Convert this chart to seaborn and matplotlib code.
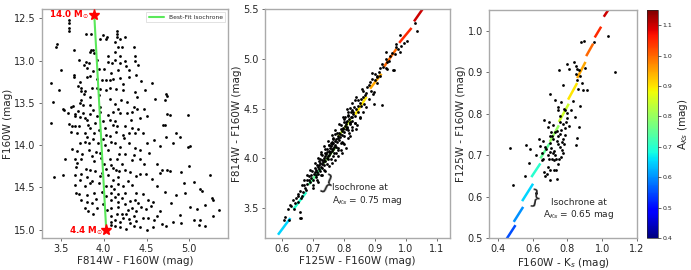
import numpy as np
import pandas as pd
import matplotlib
matplotlib.use("Agg")
import matplotlib.pyplot as plt
from matplotlib.collections import LineCollection
import seaborn as sns

# ---------------- data ----------------
# Panel 1: CMD  (F814W - F160W, F160W)
cmd_color = [
 3.59,3.59,3.59,3.60,3.79,3.85,3.99,4.04,3.96,4.03,4.16,4.16,4.15,4.25,4.19,4.13,3.45,3.44,4.17,4.21,
 4.35,3.85,3.87,3.89,3.84,3.65,4.05,4.13,4.37,4.19,3.71,3.79,3.83,3.92,4.05,4.10,4.13,4.19,4.25,4.37,
 4.40,3.81,3.95,4.00,4.17,4.26,4.29,3.50,3.65,3.65,3.81,3.84,3.92,3.98,4.03,4.07,4.11,4.19,4.38,4.44,
 3.39,3.48,3.72,3.74,3.73,3.78,3.86,3.77,3.92,3.96,4.03,4.07,4.14,4.23,4.56,4.37,4.39,4.48,4.73,4.74,
 3.41,3.74,3.72,3.84,3.94,4.07,4.13,4.20,4.27,4.60,4.71,3.52,3.54,3.62,3.64,3.84,3.96,4.17,4.35,4.39,
 4.47,3.58,3.66,3.76,3.84,3.96,4.11,4.19,4.33,3.66,3.72,3.78,3.81,4.07,4.13,4.42,4.50,4.74,4.77,4.99,
 3.38,3.59,3.63,3.66,3.71,3.82,3.84,4.11,4.15,4.25,4.33,4.40,4.69,4.71,3.62,3.69,3.78,3.81,3.89,4.03,
 4.07,4.14,4.22,4.29,4.37,4.46,4.73,4.84,4.89,4.81,4.99,5.01,3.72,3.78,3.83,3.99,4.09,4.13,4.19,4.29,
 4.37,4.59,4.66,3.63,3.69,3.83,3.91,3.96,4.18,4.25,4.42,4.53,3.55,3.66,3.69,3.74,3.89,4.07,4.15,4.21,
 4.33,4.42,4.62,5.00,3.68,3.79,3.84,4.03,4.11,4.18,4.25,4.31,4.42,4.49,4.66,4.68,4.74,4.77,4.90,3.42,
 3.52,3.66,3.74,3.81,3.86,3.96,4.11,4.17,4.28,4.38,5.24,3.67,3.78,3.84,4.03,4.17,4.23,4.33,4.62,4.94,
 5.05,3.68,3.71,3.81,3.89,4.09,4.17,4.25,4.38,4.46,4.85,4.95,5.13,5.15,3.74,3.80,3.91,4.09,4.17,4.36,
 4.52,4.58,4.79,5.27,5.28,3.78,3.82,3.92,4.09,4.17,4.28,4.38,4.44,4.49,5.01,5.09,5.18,5.35,3.88,4.09,
 4.15,4.21,4.26,4.35,4.46,4.52,4.89,5.05,5.13,5.28,4.09,4.13,4.19,4.31,4.59,4.81,4.90,5.11,5.18,4.08,
 4.13,4.19,4.26,4.50,4.58,4.73,
 3.76,3.88,3.92,3.99,4.02,3.95,3.90,4.05,3.70,3.87,3.93,4.01,4.05,3.75,3.86,3.97,4.00,4.09,4.14,3.90,
 3.98,4.05,3.72,3.94,4.08,4.12,3.98,4.03,4.13,4.21,3.86,3.99,4.04,4.25,4.31,4.33,4.40,4.23,4.30,4.38,
 4.42,4.35,4.62,4.66,4.68,4.55,4.72,4.56,4.47,4.35,4.50,4.24,4.32,4.27,4.22,4.30,4.08,3.88,3.77,3.70]
cmd_mag = [
 12.52,12.55,12.62,12.65,12.68,12.68,12.70,12.72,12.75,12.75,12.65,12.68,12.72,12.72,12.75,12.78,12.80,12.84,12.84,12.84,
 12.84,12.87,12.88,12.91,12.90,12.88,12.95,12.90,12.95,12.95,12.99,13.02,13.03,12.99,13.02,13.03,12.99,13.03,13.01,13.00,
 13.05,13.09,13.10,13.10,13.11,13.06,13.11,13.11,13.17,13.20,13.19,13.18,13.22,13.23,13.23,13.23,13.22,13.21,13.17,13.24,
 13.26,13.35,13.25,13.33,13.36,13.36,13.32,13.39,13.32,13.34,13.35,13.33,13.34,13.35,13.27,13.37,13.43,13.35,13.39,13.42,
 13.49,13.47,13.50,13.43,13.41,13.45,13.51,13.47,13.49,13.45,13.47,13.57,13.58,13.55,13.54,13.53,13.55,13.57,13.55,13.57,
 13.57,13.62,13.63,13.62,13.63,13.61,13.61,13.62,13.61,13.66,13.67,13.68,13.70,13.70,13.72,13.68,13.66,13.63,13.64,13.64,
 13.74,13.75,13.78,13.78,13.78,13.76,13.80,13.76,13.78,13.78,13.80,13.81,13.76,13.76,13.84,13.86,13.86,13.90,13.86,13.88,
 13.89,13.84,13.88,13.86,13.86,13.86,13.91,13.86,13.90,13.98,14.02,14.01,13.98,13.96,13.97,13.93,13.96,13.98,14.02,13.97,
 14.04,13.94,14.01,14.05,14.07,14.06,14.08,14.09,14.10,14.11,14.06,14.09,14.17,14.16,14.21,14.17,14.19,14.17,14.16,14.22,
 14.18,14.16,14.22,14.25,14.26,14.28,14.29,14.28,14.27,14.31,14.30,14.32,14.34,14.34,14.33,14.30,14.30,14.31,14.32,14.38,
 14.35,14.36,14.34,14.38,14.42,14.37,14.41,14.38,14.42,14.37,14.36,14.47,14.49,14.45,14.49,14.46,14.49,14.47,14.49,14.45,
 14.44,14.57,14.58,14.59,14.57,14.57,14.58,14.57,14.57,14.58,14.59,14.57,14.52,14.54,14.65,14.67,14.64,14.65,14.67,14.65,
 14.65,14.67,14.68,14.63,14.65,14.75,14.78,14.75,14.75,14.73,14.77,14.78,14.73,14.76,14.73,14.76,14.71,14.77,14.81,14.84,
 14.81,14.81,14.82,14.84,14.86,14.86,14.83,14.89,14.89,14.84,14.91,14.89,14.91,14.92,14.89,14.91,14.92,14.95,14.96,14.95,
 14.96,14.97,14.99,15.00,14.97,14.96,
 13.52,13.58,13.66,13.72,13.80,13.82,13.74,13.64,13.60,13.93,13.98,14.00,14.06,14.10,14.13,14.15,14.22,14.24,14.30,14.31,
 14.33,14.36,14.41,14.45,14.48,14.52,14.55,14.60,14.62,14.63,14.68,14.70,14.77,14.70,14.66,14.74,14.69,14.86,14.88,14.90,
 14.97,14.96,14.84,14.78,14.93,14.72,14.55,14.40,14.22,14.12,13.98,13.92,13.70,13.62,13.28,13.20,13.15,13.12,13.05,13.30]

# Best-fit isochrone (F814W-F160W, F160W) and its mass end points
iso_color = [3.89, 4.03]
iso_mag = [12.46, 15.01]
iso_mass_labels = ["14.0 M$_{\\odot}$", "4.4 M$_{\\odot}$"]

# Panel 2: colour-colour (F125W-F160W, F814W-F160W)
cc2_x = [
 1.029,1.037,0.980,1.002,0.967,0.969,0.975,0.981,0.937,0.948,0.940,0.922,0.916,0.940,0.958,0.891,0.900,0.905,0.908,0.916,
 0.889,0.884,0.905,0.857,0.862,0.887,0.898,0.895,0.868,0.836,0.844,0.866,0.898,0.855,0.820,0.827,0.812,0.823,0.830,0.814,
 0.804,0.827,0.852,0.809,0.801,0.820,0.807,0.820,0.836,0.841,0.825,0.809,0.798,0.812,0.793,0.787,0.801,0.771,0.780,0.766,
 0.791,0.798,0.758,0.750,0.774,0.761,0.745,0.755,0.739,0.769,0.730,0.748,0.723,0.737,0.718,0.729,0.712,0.707,0.720,0.698,
 0.694,0.709,0.686,0.680,0.664,0.673,0.659,0.653,0.664,0.645,0.634,0.651,0.627,0.619,0.657,0.659,0.611,0.623,
 0.690,0.695,0.700,0.702,0.705,0.708,0.710,0.713,0.715,0.717,0.720,0.722,0.724,0.726,0.728,0.730,0.732,0.734,0.736,0.738,
 0.740,0.742,0.744,0.746,0.748,0.750,0.752,0.754,0.756,0.758,0.760,0.762,0.764,0.766,0.768,0.770,0.772,0.775,0.778,0.780,
 0.783,0.785,0.788,0.790,0.793,0.796,0.799,0.802,0.805,0.808,0.811,0.815,0.818,0.822,0.826,0.830,0.835,0.840,0.845,0.850,
 0.855,0.860,0.870,0.875,0.880,0.900,0.912,0.925,0.935,0.945,0.955,0.965,0.985,0.995,0.700,0.712,0.725,0.735,0.745,0.757,
 0.763,0.773,0.782,0.792,0.672,0.680,0.686,0.642,0.650,0.660,0.668,0.676,0.605,0.630,0.640,0.727,0.740,0.753,0.765,0.777,
 0.790,0.800,0.812,0.760,0.833,0.845,0.815,0.825,0.838,0.780,0.921,0.937,0.961,0.661,
 0.770,0.782,0.790,0.800,0.812,0.760,0.750,0.740,0.730,0.715,0.700,0.705,0.715,0.725,0.735,0.748,0.760,0.772,0.785,0.797,
 0.810,0.825,0.840,0.850,0.860,0.870,0.880,0.690,0.680,0.670,0.795,0.805,0.820,0.835]
cc2_y = [
 5.36,5.275,5.235,5.18,5.15,5.12,5.10,5.07,5.07,5.03,4.97,4.95,4.91,4.90,4.89,4.86,4.85,4.83,4.82,4.83,
 4.80,4.77,4.76,4.70,4.68,4.68,4.67,4.65,4.64,4.59,4.59,4.55,4.55,4.53,4.505,4.49,4.465,4.465,4.45,4.43,
 4.415,4.415,4.415,4.38,4.37,4.37,4.37,4.355,4.36,4.34,4.32,4.315,4.30,4.28,4.27,4.24,4.22,4.24,4.20,4.19,
 4.15,4.15,4.15,4.13,4.11,4.09,4.09,4.06,4.055,4.05,4.03,4.02,3.99,3.98,3.97,3.945,3.935,3.90,3.89,3.87,
 3.835,3.835,3.82,3.785,3.735,3.70,3.67,3.645,3.625,3.60,3.585,3.565,3.535,3.49,3.465,3.40,3.415,3.38,
 3.76,3.80,3.78,3.84,3.86,3.81,3.88,3.86,3.91,3.84,3.93,3.87,3.95,3.91,3.98,3.90,3.96,4.00,3.93,4.02,
 3.97,4.04,4.00,4.06,3.99,4.07,4.03,4.10,4.05,4.12,4.07,4.14,4.09,4.15,4.11,4.17,4.13,4.19,4.16,4.22,
 4.18,4.25,4.21,4.29,4.23,4.31,4.26,4.33,4.29,4.35,4.31,4.40,4.35,4.42,4.38,4.47,4.43,4.50,4.47,4.56,
 4.60,4.62,4.66,4.72,4.74,4.79,4.87,4.92,5.00,4.98,5.06,5.05,5.13,5.16,3.73,3.78,3.83,3.88,3.94,3.99,
 4.02,4.05,4.10,4.16,3.73,3.74,3.78,3.55,3.62,3.60,3.66,3.68,3.38,3.52,3.49,4.04,4.09,4.13,4.20,4.25,
 4.34,4.40,4.44,4.16,4.52,4.53,4.25,4.28,4.30,4.08,4.54,4.91,4.89,3.40,
 3.98,4.02,4.08,4.14,4.20,3.95,3.92,3.87,3.83,3.76,3.70,3.95,4.00,4.06,4.12,4.17,4.23,4.28,4.35,4.42,
 4.50,4.56,4.62,4.41,4.47,4.52,4.60,3.88,3.83,3.78,4.05,4.10,4.22,4.36]

# Panel 2 isochrones at A_Ks (start / end of each drawn isochrone)
iso2_aks = [0.65, 0.70, 0.75, 0.80, 0.85, 0.90, 0.95, 1.00, 1.05, 1.10]
iso2_x0 = [0.587, 0.637, 0.686, 0.734, 0.782, 0.836, 0.884, 0.929, 0.978, 1.026]
iso2_y0 = [3.233, 3.490, 3.735, 3.950, 4.220, 4.440, 4.700, 4.920, 5.160, 5.376]
iso2_x1 = [0.627, 0.678, 0.725, 0.775, 0.822, 0.873, 0.921, 0.969, 1.018, 1.065]
iso2_y1 = [3.400, 3.660, 3.900, 4.120, 4.395, 4.620, 4.850, 5.100, 5.310, 5.550]

# Panel 3: colour-colour (F160W-Ks, F125W-F160W)
cc3_x = [
 1.032,1.072,0.898,0.881,0.952,0.795,0.808,0.752,0.837,0.850,0.856,0.866,0.852,0.890,0.911,0.883,0.775,0.856,0.703,0.728,
 0.765,0.875,0.747,0.747,0.789,0.799,0.755,0.843,0.668,0.693,0.716,0.686,0.775,0.808,0.789,0.866,0.741,0.708,0.755,0.699,
 0.785,0.856,0.720,0.636,0.661,0.773,0.768,0.747,0.779,0.848,0.565,0.584,0.674,0.678,0.708,0.767,0.703,0.716,0.773,0.765,
 0.473,0.722,0.578,0.655,0.747,0.689,0.699,0.684,0.722,0.674,0.741,0.555,0.486,0.622,
 0.700,0.712,0.690,0.730,0.735,0.752,0.760,0.740,0.727,0.695,0.660,0.645,0.620,0.668,0.700,0.765,0.800,0.820,0.790,0.830,
 0.870,0.900,0.862,0.722,0.710,0.748,0.733,0.655,0.780,0.760]
cc3_y = [
 0.988,0.900,0.976,0.973,0.972,0.919,0.907,0.905,0.924,0.915,0.907,0.905,0.895,0.858,0.857,0.874,0.870,0.881,0.847,0.834,
 0.829,0.818,0.815,0.808,0.808,0.802,0.795,0.791,0.786,0.779,0.772,0.767,0.775,0.770,0.765,0.767,0.758,0.756,0.752,0.746,
 0.748,0.742,0.740,0.738,0.734,0.738,0.732,0.726,0.726,0.725,0.724,0.716,0.720,0.714,0.718,0.712,0.708,0.705,0.704,0.696,
 0.718,0.688,0.682,0.689,0.678,0.672,0.663,0.655,0.665,0.650,0.642,0.649,0.629,0.609,
 0.730,0.745,0.700,0.700,0.690,0.690,0.720,0.735,0.755,0.690,0.690,0.722,0.700,0.660,0.640,0.760,0.790,0.810,0.780,0.830,
 0.890,0.910,0.860,0.710,0.690,0.745,0.665,0.705,0.812,0.780]

# Panel 3 isochrones at A_Ks
iso3_aks = [0.55, 0.60, 0.65, 0.70, 0.75, 0.80, 0.85, 0.90, 0.95, 1.00, 1.05, 1.10]
iso3_x0 = [0.445, 0.492, 0.540, 0.593, 0.645, 0.699, 0.751, 0.804, 0.856, 0.908, 0.957, 1.009]
iso3_y0 = [0.494, 0.539, 0.589, 0.647, 0.692, 0.732, 0.780, 0.834, 0.886, 0.939, 0.984, 1.034]
iso3_x1 = [0.502, 0.546, 0.603, 0.645, 0.697, 0.751, 0.808, 0.856, 0.904, 0.948, 0.994, 1.050]
iso3_y1 = [0.531, 0.575, 0.631, 0.680, 0.728, 0.772, 0.824, 0.874, 0.925, 0.969, 1.010, 1.060]

cbar_ticks = [0.4, 0.5, 0.6, 0.7, 0.8, 0.9, 1.0, 1.1]

# ---------------- style ----------------
sns.set_style("ticks")
plt.rcParams['font.family'] = ['DejaVu Sans']
FS = 7.5
TFS = 7.0
spine_col = '#aaaaaa'

fig = plt.figure(figsize=(6.91, 2.70), dpi=100)
ax1 = fig.add_axes([0.0608, 0.1185, 0.269, 0.848])
ax2 = fig.add_axes([0.3835, 0.1185, 0.2677, 0.848])
ax3 = fig.add_axes([0.7077, 0.1185, 0.2142, 0.844])
cax = fig.add_axes([0.9363, 0.1185, 0.0159, 0.844])

def style(ax):
    for s in ax.spines.values():
        s.set_color(spine_col)
        s.set_linewidth(1.0)
    ax.tick_params(labelsize=TFS, length=2.5, width=0.6, color='#555555', pad=2)

cmap = plt.get_cmap('jet')
norm = matplotlib.colors.Normalize(vmin=0.4, vmax=1.15)

# Panel 1
df1 = pd.DataFrame({'c': cmd_color, 'm': cmd_mag})
sns.scatterplot(data=df1, x='c', y='m', ax=ax1, color='k', s=4, linewidth=0)
dfi = pd.DataFrame({'c': iso_color, 'm': iso_mag})
sns.lineplot(data=dfi, x='c', y='m', ax=ax1, color='#5ae85a', lw=1.5, sort=False,
             label='Best-Fit Isochrone')
ax1.plot(iso_color, iso_mag, ls='none', marker='*', color='red', ms=8, zorder=5)
ax1.text(iso_color[0] - 0.06, iso_mag[0], iso_mass_labels[0], color='red', fontsize=6.3,
         fontweight='bold', ha='right', va='center')
ax1.text(iso_color[1] - 0.035, iso_mag[1], iso_mass_labels[1], color='red', fontsize=6.3,
         fontweight='bold', ha='right', va='center')
ax1.set_xlim(3.28, 5.45)
ax1.set_ylim(15.10, 12.39)
ax1.set_xticks([3.5, 4.0, 4.5, 5.0])
ax1.set_yticks([12.5, 13.0, 13.5, 14.0, 14.5, 15.0])
ax1.set_xlabel('F814W - F160W (mag)', fontsize=FS, labelpad=1)
ax1.set_ylabel('F160W (mag)', fontsize=FS, labelpad=1)
leg = ax1.legend(loc='upper right', fontsize=4.3, frameon=True, handlelength=2.5,
                 borderpad=0.4, fancybox=False)
leg.get_frame().set_linewidth(0.5)
leg.get_frame().set_edgecolor('#cccccc')
style(ax1)

# Panel 2
df2 = pd.DataFrame({'x': cc2_x, 'y': cc2_y})
sns.scatterplot(data=df2, x='x', y='y', ax=ax2, color='k', s=4, linewidth=0, zorder=3)
segs2 = [[(a, b), (c, d)] for a, b, c, d in zip(iso2_x0, iso2_y0, iso2_x1, iso2_y1)]
lc2 = LineCollection(segs2, colors=cmap(norm(np.array(iso2_aks))), linewidths=1.8, zorder=2)
ax2.add_collection(lc2)
ax2.text(0.745, 3.735, '}', fontsize=15, rotation=-25, ha='center', va='center')
ax2.text(0.761, 3.63, 'Isochrone at\nA$_{Ks}$ = 0.75 mag', fontsize=6.5, ha='left', va='center')
ax2.set_xlim(0.545, 1.142)
ax2.set_ylim(3.2, 5.5)
ax2.set_xticks([0.6, 0.7, 0.8, 0.9, 1.0, 1.1])
ax2.set_yticks([3.5, 4.0, 4.5, 5.0, 5.5])
ax2.set_xlabel('F125W - F160W (mag)', fontsize=FS, labelpad=1)
ax2.set_ylabel('F814W - F160W (mag)', fontsize=FS, labelpad=1)
style(ax2)

# Panel 3
df3 = pd.DataFrame({'x': cc3_x, 'y': cc3_y})
sns.scatterplot(data=df3, x='x', y='y', ax=ax3, color='k', s=4, linewidth=0, zorder=3)
segs3 = [[(a, b), (c, d)] for a, b, c, d in zip(iso3_x0, iso3_y0, iso3_x1, iso3_y1)]
lc3 = LineCollection(segs3, colors=cmap(norm(np.array(iso3_aks))), linewidths=1.8, zorder=2)
ax3.add_collection(lc3)
ax3.text(0.614, 0.596, '}', fontsize=14, rotation=-10, ha='center', va='center')
ax3.text(0.866, 0.569, 'Isochrone at\nA$_{Ks}$ = 0.65 mag', fontsize=6.5, ha='center',
         va='center', multialignment='center')
ax3.set_xlim(0.35, 1.2)
ax3.set_ylim(0.5, 1.05)
ax3.set_xticks([0.4, 0.6, 0.8, 1.0, 1.2])
ax3.set_yticks([0.5, 0.6, 0.7, 0.8, 0.9, 1.0])
ax3.set_xlabel('F160W - K$_s$ (mag)', fontsize=FS, labelpad=1)
ax3.set_ylabel('F125W - F160W (mag)', fontsize=FS, labelpad=1)
style(ax3)

# Colorbar
sm = matplotlib.cm.ScalarMappable(norm=norm, cmap=cmap)
cb = fig.colorbar(sm, cax=cax, ticks=cbar_ticks)
cb.ax.tick_params(labelsize=4.5, length=2, width=0.5, pad=1)
cb.set_label('A$_{Ks}$ (mag)', fontsize=FS, labelpad=3)
cb.outline.set_linewidth(0.5)

fig.savefig('out.png', dpi=100)
